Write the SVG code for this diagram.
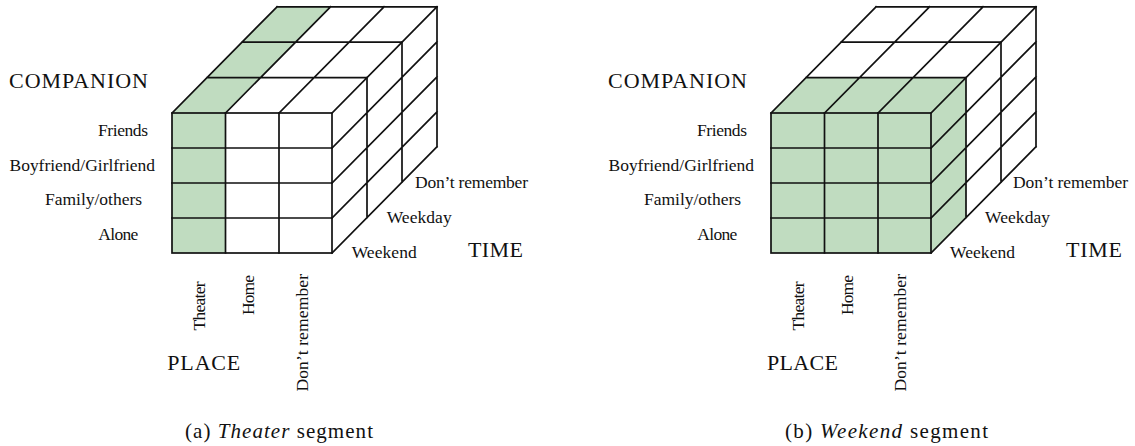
<svg xmlns="http://www.w3.org/2000/svg" width="1135" height="446" viewBox="0 0 1135 446">
<style>
.bg{fill:#ffffff}
.g{fill:#c0dcc0;stroke:none}
.ln{stroke:#111;stroke-width:1.7;fill:none;stroke-linecap:square}
.t{font-family:"Liberation Serif","Times New Roman",serif;fill:#111;font-size:17.5px}
.h{font-family:"Liberation Serif","Times New Roman",serif;fill:#111;font-size:22px}
.c{font-family:"Liberation Serif","Times New Roman",serif;fill:#111;font-size:21px}
.i{font-style:italic}
</style>
<defs>
<g id="cubeLines">
<!-- front face -->
<rect x="172" y="113" width="160" height="140" class="ln"/>
<path class="ln" d="M225.5,113V253M279,113V253M172,148H332M172,183H332M172,218H332"/>
<!-- top face -->
<path class="ln" d="M207,77.6H367M242,42.2H402M277,6.8H437M172,113L277,6.8M225.5,113L330.5,6.8M279,113L384,6.8M332,113L437,6.8"/>
<!-- right face -->
<path class="ln" d="M367,77.6V217.6M402,42.2V182.2M437,6.8V146.8M332,148L437,41.8M332,183L437,76.8M332,218L437,111.8M332,253L437,146.8"/>
</g>
</defs>
<rect class="bg" x="0" y="0" width="1135" height="446"/>

<g id="cube-a">
<rect class="g" x="172" y="113" width="53.5" height="140"/>
<polygon class="g" points="172,113 225.5,113 330.5,6.8 277,6.8"/>
<use href="#cubeLines"/>
</g>

<g id="cube-b" transform="translate(599,0)">
<rect class="g" x="172" y="113" width="160" height="140"/>
<polygon class="g" points="172,113 332,113 367,77.6 207,77.6"/>
<polygon class="g" points="332,113 367,77.6 367,217.6 332,253"/>
<use href="#cubeLines"/>
</g>

<g id="labels-a">
<text class="h" x="9" y="88" textLength="139" lengthAdjust="spacing">COMPANION</text>
<text class="t" x="98" y="135.5" textLength="50" lengthAdjust="spacing">Friends</text>
<text class="t" x="9.5" y="170.5" textLength="145.5" lengthAdjust="spacing">Boyfriend/Girlfriend</text>
<text class="t" x="45" y="205" textLength="97" lengthAdjust="spacing">Family/others</text>
<text class="t" x="98.3" y="240" textLength="40" lengthAdjust="spacing">Alone</text>
<text class="t" x="415" y="187.5" textLength="113" lengthAdjust="spacing">Don’t remember</text>
<text class="t" x="386.7" y="222.5" textLength="65" lengthAdjust="spacing">Weekday</text>
<text class="t" x="351.7" y="258" textLength="65" lengthAdjust="spacing">Weekend</text>
<text class="h" x="468" y="257" textLength="55" lengthAdjust="spacing">TIME</text>
<text class="t" transform="translate(205,330.5) rotate(-90)" textLength="49" lengthAdjust="spacing">Theater</text>
<text class="t" transform="translate(254,315) rotate(-90)" textLength="40" lengthAdjust="spacing">Home</text>
<text class="t" transform="translate(308,391.5) rotate(-90)" textLength="117.5" lengthAdjust="spacing">Don’t remember</text>
<text class="h" x="167.3" y="370" textLength="73" lengthAdjust="spacing">PLACE</text>
<text class="c" x="185" y="438" textLength="188" lengthAdjust="spacing">(a) <tspan class="i">Theater</tspan>  segment</text>
</g>

<g id="labels-b">
<text class="h" x="608" y="88" textLength="139" lengthAdjust="spacing">COMPANION</text>
<text class="t" x="697" y="135.5" textLength="50" lengthAdjust="spacing">Friends</text>
<text class="t" x="608.5" y="170.5" textLength="145.5" lengthAdjust="spacing">Boyfriend/Girlfriend</text>
<text class="t" x="644" y="205" textLength="97" lengthAdjust="spacing">Family/others</text>
<text class="t" x="697.3" y="240" textLength="40" lengthAdjust="spacing">Alone</text>
<text class="t" x="1013" y="187.5" textLength="115" lengthAdjust="spacing">Don’t remember</text>
<text class="t" x="985" y="222.5" textLength="65" lengthAdjust="spacing">Weekday</text>
<text class="t" x="950" y="258" textLength="65" lengthAdjust="spacing">Weekend</text>
<text class="h" x="1066" y="257" textLength="56" lengthAdjust="spacing">TIME</text>
<text class="t" transform="translate(804,330.5) rotate(-90)" textLength="49" lengthAdjust="spacing">Theater</text>
<text class="t" transform="translate(853,315) rotate(-90)" textLength="40" lengthAdjust="spacing">Home</text>
<text class="t" transform="translate(906,391.5) rotate(-90)" textLength="117.5" lengthAdjust="spacing">Don’t remember</text>
<text class="h" x="767" y="370" textLength="71" lengthAdjust="spacing">PLACE</text>
<text class="c" x="785" y="438" textLength="203" lengthAdjust="spacing">(b) <tspan class="i">Weekend</tspan> segment</text>
</g>
</svg>
